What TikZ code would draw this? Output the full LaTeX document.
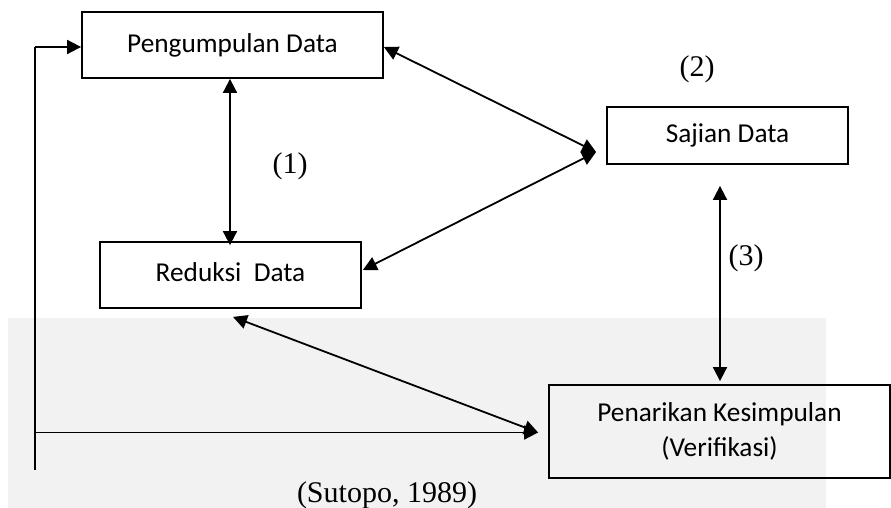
\documentclass[tikz,border=0pt]{standalone}
\usepackage{fontspec}
\setmainfont{Liberation Serif}
\newfontfamily\boxfont{Carlito}
\usetikzlibrary{arrows.meta,calc}
\begin{document}
\begin{tikzpicture}[x=1pt,y=-1pt,
  box/.style={draw,line width=1.8pt,font=\boxfont\fontsize{27.3}{35}\selectfont,align=center,inner sep=0pt},
  both/.style={line width=1.8pt,{Triangle[length=14pt,width=14pt]}-{Triangle[length=14pt,width=14pt]}},
  one/.style={line width=1.8pt,-{Triangle[length=14pt,width=14pt]}},
  plain/.style={line width=1.8pt},
  lbl/.style={font=\fontsize{30}{34}\selectfont}]
\useasboundingbox (0,0) rectangle (891,508);
\fill[black!5] (8,318) rectangle (826,508);
\node[box,minimum width=301pt,minimum height=66pt] (peng) at (232.5,45) {Pengumpulan Data};
\node[box,minimum width=261pt,minimum height=66pt] (red) at (230.5,275) {\raisebox{5pt}{Reduksi\ \ Data}};
\node[box,minimum width=241pt,minimum height=57pt] (saj) at (727.5,135.5) {Sajian Data};
\node[box,minimum width=341pt,minimum height=93pt] (pen) at (719.5,431.5) {Penarikan Kesimpulan\\(Verifikasi)};
\node[lbl] (l1) at (290,166) {(1)};
\node[lbl] (l2) at (697,69) {(2)};
\node[lbl] (l3) at (746,258) {(3)};
\node[lbl] (src) at (387,495) {(Sutopo, 1989)};
% named connector ends
\coordinate (pa) at ($(peng.south)+(-2.5,0)$);
\coordinate (ra) at ($(red.north)+(-0.5,4)$);
\coordinate (sj) at ($(saj.west)+(-10,16.5)$);
\coordinate (pe) at ($(peng.east)+(0,2)$);
\coordinate (re) at ($(red.east)+(1,-5)$);
\coordinate (sb) at ($(saj.south)+(-7.5,21)$);
\coordinate (pt) at ($(pen.north)+(0.5,-3)$);
\coordinate (rb) at ($(red.south)+(2.5,8)$);
\coordinate (pw) at ($(pen.west)+(-10,1)$);
\coordinate (fb) at (35,470);
\coordinate (fc) at (35,432.5);
\coordinate (ft) at (35,47);
\draw[both] (pa) -- (ra);
\draw[both] (pe) -- (sj);
\draw[both] (sj) -- (re);
\draw[both] (sb) -- (pt);
\draw[both] (rb) -- (pw);
\draw[plain] (fb) -- (ft);
\draw[one] (ft) -- (peng.west |- ft);
\draw[one] (fc) -- (pw);
\end{tikzpicture}
\end{document}
